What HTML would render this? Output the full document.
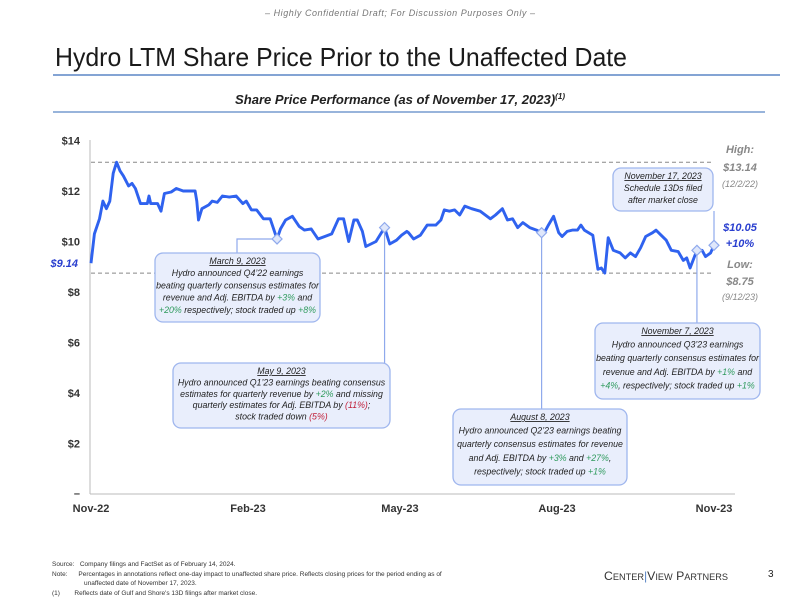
<!DOCTYPE html>
<html><head><meta charset="utf-8"><style>
html,body{margin:0;padding:0;background:#fff;}
svg{display:block;font-family:"Liberation Sans",sans-serif;}
</style></head><body>
<svg id="chart" width="800" height="600" viewBox="0 0 800 600">
<text x="400" y="16" text-anchor="middle" font-size="9" font-style="italic" fill="#777" textLength="270">– Highly Confidential Draft; For Discussion Purposes Only –</text>
<text x="55" y="66" font-size="26" fill="#1a1a1a" textLength="572" lengthAdjust="spacingAndGlyphs">Hydro LTM Share Price Prior to the Unaffected Date</text>
<line x1="53" y1="75" x2="780" y2="75" stroke="#5b86c5" stroke-width="1.5"/>
<text x="400" y="104" text-anchor="middle" font-size="13" font-weight="bold" font-style="italic" fill="#222" textLength="330" lengthAdjust="spacingAndGlyphs">Share Price Performance (as of November 17, 2023)<tspan font-size="8" dy="-5">(1)</tspan></text>
<line x1="53" y1="112" x2="765" y2="112" stroke="#5b86c5" stroke-width="1.2"/>
<g id="axes"></g>
<g id="plot"></g>
<g id="annots"></g>
<text x="52" y="566" font-size="6.5" fill="#333">Source:&#160;&#160;&#160;Company filings and FactSet as of February 14, 2024.</text>
<text x="52" y="576" font-size="6.5" fill="#333">Note:&#160;&#160;&#160;&#160;&#160;&#160;Percentages in annotations reflect one-day impact to unaffected share price. Reflects closing prices for the period ending as of</text>
<text x="84" y="585" font-size="6.5" fill="#333">unaffected date of November 17, 2023.</text>
<text x="52" y="595" font-size="6.5" fill="#333">(1)&#160;&#160;&#160;&#160;&#160;&#160;&#160;&#160;Reflects date of Gulf and Shore's 13D filings after market close.</text>
<text x="604" y="580" font-size="12" fill="#333" textLength="124" lengthAdjust="spacingAndGlyphs">C<tspan font-size="9">ENTER</tspan><tspan fill="#5b86c5">|</tspan>V<tspan font-size="9">IEW</tspan> P<tspan font-size="9">ARTNERS</tspan></text>
<text x="768" y="577" font-size="10" fill="#222">3</text>
</svg>
<script>
const days = [0,2,5,7,9,11,13,15,17,19,22,24,26,29,33,34,35,39,41,43,47,50,54,56,61,62,63,65,69,71,74,77,81,85,89,91,94,97,101,105,109,111,114,118,122,125,129,133,137,141,145,148,151,154,156,159,161,167,172,175,179,182,185,186,189,193,197,202,205,207,210,213,216,219,223,228,234,237,241,244,247,250,253,257,261,264,266,268,271,274,276,279,282,285,287,289,294,297,299,301,303,306,310,313,316,319,322,325,329,331,334,337,340,344,347,349,351,355,358,360,363,365];
const prices = [9.14,10.3,10.9,11.6,11.3,11.6,12.7,13.14,12.8,12.6,12.2,12.3,12.1,11.5,11.5,11.8,11.5,11.5,11.2,11.9,11.96,12.1,12.0,12.0,12.0,11.6,10.85,11.3,11.45,11.6,11.55,11.8,11.76,11.8,11.5,11.6,11.25,11.25,10.9,10.9,10.1,10.5,10.85,11.0,10.6,10.45,10.5,10.1,10.2,10.3,10.9,10.9,10.0,10.85,10.85,10.4,9.8,10.0,10.55,9.9,10.05,10.25,10.4,10.35,10.1,10.25,10.65,10.65,10.85,11.25,11.2,11.25,11.05,11.4,11.3,11.2,10.9,11.05,11.3,10.85,10.9,10.55,10.75,10.55,10.45,10.35,10.4,10.65,11.0,10.35,10.2,10.4,10.45,10.45,10.65,10.45,10.25,8.9,8.95,8.75,10.15,9.65,9.55,9.35,9.55,9.4,9.75,10.2,10.35,10.45,10.25,10.05,9.65,9.6,9.25,9.35,8.95,9.65,9.65,9.4,9.55,9.85,10.05];
const yTicks = [2,4,6,8,10,12,14];
const yTickLabels = ["$2","$4","$6","$8","$10","$12","$14"];
const xTickDays = [0,92,181,273,365];
const xTickLabels = ["Nov-22","Feb-23","May-23","Aug-23","Nov-23"];
const highValue = 13.14, lowValue = 8.75;
const eventDays = [109,172,264,355,365];

const NS="http://www.w3.org/2000/svg";
const X0=91,X1=714,Y0=494,PPU=25.25;
const xs=d=>X0+d*(X1-X0)/365;
const ys=v=>Y0-v*PPU;
function mk(tag,attrs,parent,txt){const e=document.createElementNS(NS,tag);for(const k in attrs)e.setAttribute(k,attrs[k]);if(txt!==undefined)e.textContent=txt;parent.appendChild(e);return e;}
const axes=document.getElementById('axes'),plot=document.getElementById('plot'),ann=document.getElementById('annots');

let e=mk('line',{x1:X0-1,y1:140,x2:X0-1,y2:Y0,stroke:'#bbb','stroke-width':1},axes);


e=mk('line',{x1:X0-1,y1:Y0,x2:735,y2:Y0,stroke:'#bbb','stroke-width':1},axes);


yTicks.forEach((v,i)=>{
  const t=mk('text',{x:80,y:ys(v)+4,'text-anchor':'end','font-size':11,'font-weight':'bold',fill:'#333'},axes,yTickLabels[i]);
  
  
});
e=mk('text',{x:80,y:ys(0)+3,'text-anchor':'end','font-size':11,'font-weight':'bold',fill:'#333'},axes,'–');


xTickDays.forEach((d,i)=>{
  const t=mk('text',{x:xs(d),y:512,'text-anchor':'middle','font-size':11,'font-weight':'bold',fill:'#333'},axes,xTickLabels[i]);
  
  
});
[highValue,lowValue].forEach((v,i)=>{
  const l=mk('line',{x1:X0,y1:ys(v),x2:712,y2:ys(v),stroke:'#888','stroke-width':1,'stroke-dasharray':'4,3'},plot);
  
  
});
let dstr=days.map((d,i)=>(i?'L':'M')+xs(d).toFixed(1)+','+ys(prices[i]).toFixed(1)).join(' ');
e=mk('path',{d:dstr,fill:'none',stroke:'#2f62ef','stroke-width':2.9,'stroke-linejoin':'round'},plot);



function priceAt(d){for(let i=1;i<days.length;i++){if(days[i]>=d){const t=(d-days[i-1])/(days[i]-days[i-1]||1);return prices[i-1]+t*(prices[i]-prices[i-1]);}}return prices[prices.length-1];}
const LC='#8fa9ec';
const boxes=[
 {x:155,y:253,w:165,h:69,name:'annotation-march-2023',lines:[['March 9, 2023',1],['Hydro announced Q4\u201922 earnings'],['beating quarterly consensus estimates for'],['revenue and Adj. EBITDA by ',['+3%','g'],' and'],[['+20%','g'],' respectively; stock traded up ',['+8%','g']]]},
 {x:173,y:363,w:217,h:65,name:'annotation-may-2023',lines:[['May 9, 2023',1],['Hydro announced Q1\u201923 earnings beating consensus'],['estimates for quarterly revenue by ',['+2%','g'],' and missing'],['quarterly estimates for Adj. EBITDA by ',['(11%)','r'],';'],['stock traded down ',['(5%)','r']]]},
 {x:453,y:409,w:174,h:76,name:'annotation-august-2023',lines:[['August 8, 2023',1],['Hydro announced Q2\u201923 earnings beating'],['quarterly consensus estimates for revenue'],['and Adj. EBITDA by ',['+3%','g'],' and ',['+27%','g'],','],['respectively; stock traded up ',['+1%','g']]]},
 {x:595,y:323,w:165,h:76,name:'annotation-november-7-2023',lines:[['November 7, 2023',1],['Hydro announced Q3\u201923 earnings'],['beating quarterly consensus estimates for'],['revenue and Adj. EBITDA by ',['+1%','g'],' and'],[['+4%','g'],', respectively; stock traded up ',['+1%','g']]]},
 {x:613,y:168,w:100,h:43,name:'annotation-november-17-2023',lines:[['November 17, 2023',1],['Schedule 13Ds filed'],['after market close']]}
];
const ex=eventDays.map(xs), ey=eventDays.map(d=>ys(priceAt(d)));
const conns=[
 `M${ex[0]},${ey[0]} L237,${ey[0]} L237,253`,
 `M${ex[1]},${ey[1]} L${ex[1]},363`,
 `M${ex[2]},${ey[2]} L${ex[2]},409`,
 `M${ex[3]},${ey[3]} L${ex[3]},323`,
 `M${ex[4]},${ey[4]} L${ex[4]},211`
];
conns.forEach(c=>{const p=mk('path',{d:c,fill:'none',stroke:LC,'stroke-width':1.2},ann);
 
 });
eventDays.forEach((d,i)=>{const s=5;const x=ex[i],y=ey[i];
 const p=mk('path',{d:`M${x},${y-s} L${x+s},${y} L${x},${y+s} L${x-s},${y} Z`,fill:'#dfe7fb',stroke:LC,'stroke-width':1.2},ann);
 
 });
boxes.forEach(b=>{
 const g=mk('g',{},ann);
 
 
 mk('rect',{x:b.x,y:b.y,width:b.w,height:b.h,rx:8,fill:'#e9eefc',stroke:'#9fb6ee','stroke-width':1.3},g);
 const lh=b.h>60?(b.h-8)/b.lines.length:12;
 b.lines.forEach((ln,i)=>{
  const t=mk('text',{x:b.x+b.w/2,y:b.y+11+i*lh,'text-anchor':'middle','font-size':8.8,'font-style':'italic',fill:'#222'},g);
  if(ln[1]===1){t.textContent=ln[0];t.setAttribute('text-decoration','underline');return;}
  ln.forEach(seg=>{if(typeof seg==='string'){mk('tspan',{},t,seg);}else{mk('tspan',{fill:seg[1]==='g'?'#2e9a5c':'#c0203a'},t,seg[0]);}});
 });
});
const rl=[['High:',153,'#888',11],['$13.14',171,'#888',11],['(12/2/22)',187,'#888',9],['$10.05',231,'#2a3fcf',11],['+10%',247,'#2a3fcf',11],['Low:',268,'#888',11],['$8.75',285,'#888',11],['(9/12/23)',300,'#888',9]];
rl.forEach(r=>{const t=mk('text',{x:740,y:r[1],'text-anchor':'middle','font-size':r[3],'font-weight':r[3]>10?'bold':'normal','font-style':'italic',fill:r[2]},ann,r[0]);
 
 });
e=mk('text',{x:78,y:ys(prices[0])+4,'text-anchor':'end','font-size':11,'font-weight':'bold','font-style':'italic',fill:'#2a3fcf'},ann,'$9.14');


</script>
</body></html>
